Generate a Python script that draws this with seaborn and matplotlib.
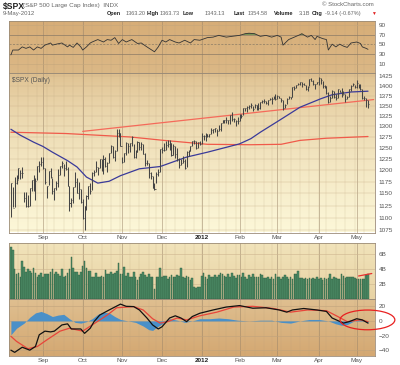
import numpy as np
import pandas as pd
import seaborn as sns
import matplotlib.pyplot as plt
from matplotlib.patches import Ellipse

# trading days shown on the chart (Aug 9 2011 .. May 9 2012)
holidays = ["2011-09-05", "2011-11-24", "2011-12-26", "2012-01-02",
            "2012-01-16", "2012-02-20", "2012-04-06"]
dates = pd.bdate_range("2011-08-09", "2012-05-09")
dates = dates[~dates.isin(pd.to_datetime(holidays))]

# daily bars
high = [1172.9, 1163, 1186, 1190, 1204, 1201, 1208, 1154, 1154, 1147, 1162, 1178, 1190, 1182, 1210, 1221, 1230,
        1230, 1204, 1166, 1198, 1204, 1184, 1162, 1177, 1202, 1209, 1220, 1214, 1220, 1207, 1165, 1141, 1164, 1195, 1184, 1175, 1160,
        1139, 1125, 1146, 1165, 1172, 1195, 1200, 1220, 1206, 1225, 1224, 1233, 1229, 1218, 1239, 1256, 1254, 1246, 1293, 1293, 1285,
        1229, 1238, 1263, 1260, 1262, 1277, 1259, 1246, 1266, 1264, 1264, 1259, 1238, 1223, 1215, 1196, 1187, 1172, 1197, 1203, 1247,
        1251, 1260, 1266, 1267, 1268, 1260, 1258, 1255, 1249, 1226, 1225, 1232, 1224, 1242, 1245, 1255, 1266, 1269, 1265, 1264, 1265,
        1285, 1279, 1284, 1283, 1282, 1296, 1293, 1297, 1294, 1303, 1308, 1315, 1315, 1322, 1315, 1328, 1334, 1320, 1316, 1322,
        1330, 1329, 1345, 1345, 1349, 1352, 1357, 1349, 1355, 1351, 1356, 1359, 1364, 1367, 1362, 1364, 1368, 1371, 1373, 1378,
        1376, 1374, 1370, 1364, 1354, 1368, 1374, 1372, 1396, 1399, 1403, 1406, 1410, 1409, 1408, 1402, 1399, 1416, 1420, 1414, 1404, 1410,
        1422, 1419, 1413, 1401, 1398, 1383, 1374, 1388, 1387, 1379, 1392, 1390, 1393, 1387, 1378, 1375, 1391, 1402, 1406, 1403,
        1415, 1405, 1404, 1392, 1373, 1370, 1364]
low = [1101, 1121, 1121, 1170, 1180, 1180, 1184, 1132, 1123, 1122, 1125, 1156, 1155, 1136, 1179, 1195, 1209,
       1203, 1170, 1140, 1167, 1183, 1149, 1136, 1158, 1163, 1189, 1205, 1188, 1201, 1166, 1114, 1121, 1131, 1163, 1150, 1139, 1131,
       1098, 1075, 1115, 1139, 1149, 1158, 1187, 1196, 1190, 1204, 1198, 1191, 1206, 1197, 1215, 1238, 1226, 1221, 1242, 1275, 1253,
       1215, 1219, 1234, 1239, 1240, 1255, 1226, 1227, 1240, 1245, 1245, 1235, 1209, 1211, 1183, 1181, 1161, 1158, 1172, 1187, 1197,
       1239, 1243, 1245, 1252, 1245, 1231, 1234, 1227, 1220, 1205, 1212, 1216, 1203, 1206, 1232, 1243, 1254, 1259, 1248, 1249, 1257,
       1259, 1267, 1266, 1274, 1275, 1281, 1285, 1286, 1278, 1288, 1290, 1308, 1309, 1309, 1306, 1306, 1313, 1311, 1301, 1306,
       1313, 1321, 1326, 1336, 1335, 1341, 1345, 1337, 1343, 1340, 1340, 1341, 1357, 1357, 1355, 1352, 1363, 1355, 1366, 1363,
       1366, 1368, 1359, 1340, 1344, 1353, 1366, 1366, 1371, 1389, 1394, 1402, 1401, 1397, 1402, 1388, 1387, 1398, 1411, 1401, 1392, 1404,
       1403, 1405, 1394, 1393, 1378, 1357, 1359, 1369, 1369, 1365, 1370, 1383, 1372, 1378, 1358, 1366, 1372, 1387, 1399, 1394,
       1395, 1394, 1388, 1367, 1364, 1347, 1343]
close = [1172.5, 1120.8, 1172.6, 1178.8, 1204.5, 1192.8, 1193.9, 1140.7, 1123.5, 1123.8, 1162.4, 1177.6, 1159.3, 1176.8, 1210.1, 1212.9, 1218.9,
         1204.4, 1174.0, 1165.2, 1198.6, 1185.9, 1154.2, 1162.3, 1172.9, 1188.7, 1209.1, 1216.0, 1204.1, 1202.1, 1166.8, 1129.6, 1136.4, 1163.0, 1175.4, 1151.1, 1160.4, 1131.4,
         1099.2, 1124.0, 1144.0, 1165.0, 1155.5, 1194.9, 1195.5, 1207.2, 1203.7, 1224.6, 1200.9, 1225.4, 1209.9, 1215.4, 1238.3, 1254.2, 1229.1, 1242.0, 1284.6, 1285.1, 1253.3,
         1218.3, 1237.9, 1261.2, 1253.2, 1261.1, 1275.9, 1229.1, 1239.7, 1263.9, 1251.8, 1257.8, 1236.9, 1216.1, 1215.7, 1193.0, 1188.0, 1161.8, 1158.7, 1192.6, 1195.2, 1247.0,
         1244.6, 1244.3, 1257.1, 1258.5, 1261.0, 1234.4, 1255.2, 1236.5, 1225.7, 1211.8, 1215.8, 1219.7, 1205.4, 1241.3, 1243.7, 1254.0, 1265.3, 1265.4, 1249.6, 1263.0, 1257.6,
         1277.1, 1277.3, 1281.1, 1277.8, 1280.7, 1292.1, 1292.5, 1295.5, 1289.1, 1293.7, 1308.0, 1314.5, 1315.4, 1316.0, 1314.7, 1326.1, 1318.4, 1316.3, 1313.0, 1312.4,
         1324.1, 1325.5, 1344.9, 1344.3, 1347.1, 1350.0, 1352.0, 1342.6, 1351.8, 1350.5, 1343.2, 1358.0, 1361.2, 1362.2, 1357.7, 1363.5, 1365.7, 1367.6, 1372.2, 1365.7,
         1374.1, 1369.6, 1364.3, 1343.4, 1352.6, 1366.0, 1370.9, 1371.1, 1396.0, 1394.3, 1402.6, 1404.2, 1409.8, 1405.5, 1402.9, 1392.8, 1397.1, 1416.5, 1412.5, 1405.5, 1403.3, 1408.5,
         1419.0, 1413.4, 1399.0, 1398.1, 1382.2, 1358.6, 1368.7, 1387.6, 1370.3, 1370.0, 1390.8, 1385.1, 1376.9, 1378.5, 1366.9, 1372.0, 1390.7, 1400.0, 1403.4, 1397.9,
         1405.8, 1402.3, 1391.6, 1369.1, 1369.6, 1363.7, 1354.6]
# volume in billions
volume = [7.0, 6.5, 4.0, 3.4, 3.5, 3.0, 5.1, 4.3, 3.6, 4.0, 3.8, 3.5, 4.1, 3.5, 3.0, 3.2, 3.5, 2.95, 3.3, 3.3,
          3.4, 3.6, 4.0, 3.4, 3.6, 3.4, 3.1, 4.0, 3.0, 3.1, 3.5, 4.0, 5.6, 4.2, 3.6, 3.6, 3.2, 3.6, 4.4, 5.1,
          4.1, 3.8, 3.8, 3.0, 3.0, 3.5, 3.0, 2.9, 3.1, 2.9, 3.9, 3.4, 3.4, 3.6, 3.4, 3.5, 3.8, 4.8, 3.3, 3.3,
          4.3, 3.1, 3.5, 3.0, 2.9, 3.6, 3.0, 2.6, 2.9, 3.3, 3.6, 3.2, 2.9, 3.4, 3.0, 2.9, 1.3, 2.9, 2.9, 4.1,
          2.9, 3.1, 3.1, 2.7, 3.0, 3.2, 2.9, 2.9, 3.2, 3.1, 4.1, 2.9, 2.8, 3.1, 2.9, 2.6, 2.8, 1.6, 1.5, 1.6,
          1.6, 3.1, 3.5, 2.9, 2.7, 3.2, 2.9, 3.0, 3.2, 3.0, 3.2, 3.5, 3.3, 3.1, 3.0, 3.4, 2.9, 3.5, 3.1, 2.8,
          3.2, 3.2, 2.9, 3.5, 3.0, 2.7, 3.2, 3.0, 3.3, 2.9, 3.0, 2.9, 3.3, 3.2, 2.8, 2.8, 2.9, 2.7, 2.9, 2.7,
          3.3, 3.0, 2.9, 2.7, 2.9, 3.2, 2.9, 2.7, 2.9, 2.7, 3.4, 3.3, 3.8, 2.8, 2.8, 2.7, 2.8, 2.7, 2.8, 2.7,
          2.8, 2.7, 2.9, 2.7, 2.8, 2.6, 2.8, 2.7, 2.8, 3.4, 2.7, 2.9, 2.8, 2.7, 2.7, 3.3, 3.1, 2.8, 2.9, 2.9,
          2.9, 2.9, 2.8, 2.7, 2.7, 2.7, 2.7, 2.7, 3.2, 3.4]

# indicator lines, sampled at bar positions
ma50_x = [0, 5, 12, 17, 22, 30, 35, 40, 46, 52, 58, 68, 79, 93, 104, 121, 127, 132, 142, 153, 164, 170, 180, 189]
ma50 = [1293, 1279, 1263, 1253, 1240, 1221, 1207, 1185, 1172, 1176, 1188, 1203, 1208, 1229, 1240, 1259, 1271, 1286,
        1314, 1346, 1367, 1377, 1384, 1386]
ma200_x = [0, 29, 63, 81, 104, 127, 143, 153, 167, 189]
ma200 = [1286, 1283, 1275, 1267, 1258, 1257, 1258, 1267, 1272, 1276]
trend_x = [38, 192]
trend = [1288, 1365]

rsi_x = [0, 1, 4, 6, 8, 10, 12, 14, 16, 18, 21, 22, 24, 27, 30, 31, 33, 35, 37, 38, 40, 42, 43, 46, 49, 51, 53, 55,
         57, 59, 61, 64, 67, 69, 72, 74, 76, 78, 80, 82, 84, 87, 89, 92, 95, 97, 100, 104, 107, 110, 114, 117, 121,
         124, 126, 129, 132, 135, 138, 141, 143, 144, 147, 150, 153, 154, 157, 159, 161, 162, 165, 167, 168, 170, 172,
         174, 176, 178, 180, 183, 185, 186, 188, 189]
rsi = [28.6, 38.6, 38.6, 45, 42, 45, 38.6, 45, 42, 48.6, 53, 48.6, 50.6, 53, 45, 48.6, 44, 53, 45, 38.6, 45, 53, 55, 60,
       55, 60, 58.6, 64, 52, 60, 55, 60, 52, 53, 45, 40, 35, 45, 58.6, 55, 60, 55, 53, 58.6, 53, 60, 58.6, 64, 65, 68.6,
       65, 66.6, 68.6, 72, 73, 72, 66.6, 68.6, 65, 68.6, 65, 48.6, 60, 65, 70, 72, 65, 68.6, 60, 66.6, 62, 60, 38.6,
       50.6, 45, 50.6, 46.6, 44, 53, 55, 52, 45, 42, 40]

macd_x = [0, 2, 6, 10, 13, 15, 18, 21, 23, 27, 30, 32, 37, 39, 42, 44, 47, 52, 58, 61, 65, 68, 72, 75, 78, 80, 84, 87,
          90, 93, 96, 100, 107, 114, 121, 128, 135, 142, 146, 149, 155, 162, 167, 170, 176, 179, 183, 186, 189]
macd = [-40, -43, -36, -40, -35, -19, -14, -15, -14, -5.5, -4, -11, -11, -17, -10, -1, 8, 15, 23, 20, 19.6, 15, 4,
        -5.5, -11, -8, 4, 7, 4, -1, 6, 10.5, 15, 19, 21, 17.4, 18, 15, 12, 15, 17, 15, 13, 4, -3, -1, 3, 1.4, -3]
signal_x = [0, 3, 9, 14, 19, 26, 31, 38, 43, 51, 56, 65, 70, 75, 79, 83, 88, 93, 100, 109, 118, 128, 139, 148, 157,
            167, 173, 178, 185, 189]
signal = [-21, -28, -38, -35, -26, -14, -10, -14, -5.5, 8, 18, 19.6, 15, 3, -3, -1, 4, 1.4, 7, 12, 19, 20, 17, 12, 15,
          14, 6, -1, 1.4, -1]
hist_x = [0, 3, 7, 10, 13, 16, 19, 22, 25, 28, 31, 34, 37, 40, 43, 46, 49, 52, 55, 58, 62, 66, 70, 73, 75, 77, 80,
          84, 88, 92, 96, 100, 105, 110, 115, 120, 126, 132, 138, 143, 148, 153, 158, 163, 168, 172, 175, 178, 181,
          184, 187, 189]
hist = [-19, -10, -3, 5, 11, 13, 10, 6, 8, 9, 3, -2, -3, -1, 3, 9, 12, 11, 6, 2, 0, -2, -7, -12, -13, -9, -4, 3, 1,
        -2, 0, 3, 3, 4, 3, 1, 0, 1, 1, -2, -3, 0, 2, 2, 0, -4, -6, -5, -1, 2, 1, -3]

price_ticks = [1075, 1100, 1125, 1150, 1175, 1200, 1225, 1250, 1275, 1300, 1325, 1350, 1375, 1400, 1425]
rsi_ticks = [10, 30, 50, 70, 90]
vol_ticks = [2, 4, 6]
vol_labels = ["2B", "4B", "6B"]
macd_ticks = [-40, -20, 0, 20]

sns.set_style("white")
plt.rcParams["font.family"] = ["Liberation Sans", "DejaVu Sans"]

idx = np.arange(len(dates))
months = [i for i in idx if i == 0 or dates[i].month != dates[i - 1].month][1:]
month_labels = ["2012" if dates[i].month == 1 else dates[i].strftime("%b") for i in months]
weeks = [i for i in idx if i > 0 and dates[i].weekday() < dates[i - 1].weekday()]

W, H = 400, 365
fig = plt.figure(figsize=(4, 3.65), dpi=100)
fig.patch.set_facecolor("white")


def rect(top, bottom):
    return [9 / W, (H - bottom) / H, 366 / W, (bottom - top) / H]


def panel(top, bottom, c_top, c_bot, gamma=1.0):
    bg = fig.add_axes(rect(top, bottom), zorder=0)
    c1 = np.array(plt.matplotlib.colors.to_rgb(c_top))
    c2 = np.array(plt.matplotlib.colors.to_rgb(c_bot))
    t = np.linspace(0, 1, 64)[:, None] ** gamma
    grad = (c1 * (1 - t) + c2 * t)[:, None, :]
    bg.imshow(grad, aspect="auto", extent=[0, 1, 0, 1])
    bg.axis("off")
    ax = fig.add_axes(rect(top, bottom), zorder=1)
    ax.set_facecolor("none")
    ax.set_xlim(-1, 192.7)
    for i in weeks:
        ax.axvline(i, color="#b8a07a", lw=0.3, alpha=0.45, zorder=0)
    for i in months:
        ax.axvline(i, color="#9a8468", lw=0.5, alpha=0.7, zorder=0)
    for s in ax.spines.values():
        s.set_color("#9c8c78")
        s.set_linewidth(0.6)
    ax.yaxis.tick_right()
    ax.tick_params(axis="y", length=0, labelsize=4.6, colors="#555555", pad=2.5)
    ax.tick_params(axis="x", length=0, labelsize=4.6, colors="#555555", pad=1.5)
    ax.set_xticks([])
    return ax


def month_axis(ax):
    ax.set_xticks(months, labels=month_labels)
    for lab in ax.get_xticklabels():
        if lab.get_text() == "2012":
            lab.set_fontweight("bold")
            lab.set_color("#222222")


# RSI panel
ax_rsi = panel(20.5, 73.3, "#d7ad77", "#dbb886")
ax_rsi.set_ylim(-9, 99)
ax_rsi.set_yticks(rsi_ticks)
for v in [70, 30]:
    ax_rsi.axhline(v, color="#8a7a66", lw=0.5)
ax_rsi.axhline(50, color="#8a7a66", lw=0.5, ls=(0, (3, 2)))
for v in [10, 90]:
    ax_rsi.axhline(v, color="#c4a67c", lw=0.4)
rsi_arr = np.array(rsi, dtype=float)
ax_rsi.fill_between(rsi_x, rsi_arr, 70, where=rsi_arr > 70, interpolate=True, color="#4f8a45", lw=0)
sns.lineplot(x=rsi_x, y=rsi, ax=ax_rsi, color="#333333", lw=0.6)
ax_rsi.set_ylabel("")

# price panel
ax_p = panel(73.3, 232.5, "#ddbd8b", "#fcf7d8", gamma=0.6)
ax_p.set_yscale("log")
ax_p.set_ylim(1071, 1432)
ax_p.minorticks_off()
ax_p.set_yticks(price_ticks, labels=[str(t) for t in price_ticks])
for t in price_ticks:
    ax_p.axhline(t, color="#c8ae88", lw=0.35, alpha=0.7, zorder=0)
sns.lineplot(x=ma200_x, y=ma200, ax=ax_p, color="#f05a4a", lw=0.9)
sns.lineplot(x=trend_x, y=trend, ax=ax_p, color="#f56a5a", lw=0.9)
sns.lineplot(x=ma50_x, y=ma50, ax=ax_p, color="#3a3a9a", lw=0.9)
ax_p.vlines(idx, low, high, color="#454545", lw=0.75, zorder=3)
ax_p.hlines(close, idx, idx + 0.55, color="#454545", lw=0.6, zorder=3)
ax_p.text(0.008, 0.975, "$SPX (Daily)", transform=ax_p.transAxes, ha="left", va="top",
          fontsize=4.8, color="#555555")
ax_p.set_ylabel("")
month_axis(ax_p)

# volume panel
ax_v = panel(243, 299, "#f1e3ba", "#e8d3a4")
ax_v.set_ylim(0, 7.47)
ax_v.set_yticks(vol_ticks, labels=vol_labels)
for t in vol_ticks:
    ax_v.axhline(t, color="#cdb58f", lw=0.4, zorder=0)
ax_v.bar(idx, volume, width=0.85, color="#4d8d66", edgecolor="#2e5c40", linewidth=0.3, zorder=2)
ax_v.plot([184, 191], [3.07, 3.4], color="#e83030", lw=0.9, zorder=4)

# MACD panel
ax_m = panel(299, 356, "#dfbf90", "#d4a872")
ax_m.set_ylim(-48, 30)
ax_m.set_yticks(macd_ticks)
for t in macd_ticks:
    ax_m.axhline(t, color="#bfa27c", lw=0.4, zorder=0)
ax_m.fill_between(hist_x, hist, 0, color="#4a90c8", lw=0, zorder=2)
sns.lineplot(x=signal_x, y=signal, ax=ax_m, color="#e8453a", lw=0.9)
sns.lineplot(x=macd_x, y=macd, ax=ax_m, color="#111111", lw=0.9)
ax_m.set_ylabel("")
month_axis(ax_m)
ax_m.add_patch(Ellipse((188.7, 1.4), 29, 27, fill=False, edgecolor="#e82020", lw=0.9,
                       clip_on=False, zorder=5))

# header
fs = 4.0
fig.text(3 / W, 1 - 6 / H, "$SPX", fontsize=6.2, fontweight="bold", va="center", color="#222222")
fig.text(23 / W, 1 - 6 / H, "(S&P 500 Large Cap Index)  INDX", fontsize=4.5, va="center", color="#666666")
fig.text(3 / W, 1 - 13.5 / H, "9-May-2012", fontsize=4.3, va="center", color="#666666")
fig.text(374 / W, 1 - 5 / H, "\u00a9 StockCharts.com", fontsize=4.3, va="center", ha="right", color="#666666")
pieces = [(107, "Open", True), (126, "1363.20", False), (147, "High", True), (160, "1363.73", False),
          (183, "Low", True), (205, "1343.13", False), (234, "Last", True), (248, "1354.58", False),
          (274, "Volume", True), (299, "3.1B", False), (312, "Chg", True), (325, "-9.14 (-0.67%)", False)]
for x, s, b in pieces:
    fig.text(x / W, 1 - 13.5 / H, s, fontsize=fs, va="center",
             fontweight="bold" if b else "normal", color="#222222" if b else "#666666")
fig.text(371 / W, 1 - 13.5 / H, "\u25bc", fontsize=3.5, va="center", color="#e02020")

fig.savefig("out.png", dpi=100)
